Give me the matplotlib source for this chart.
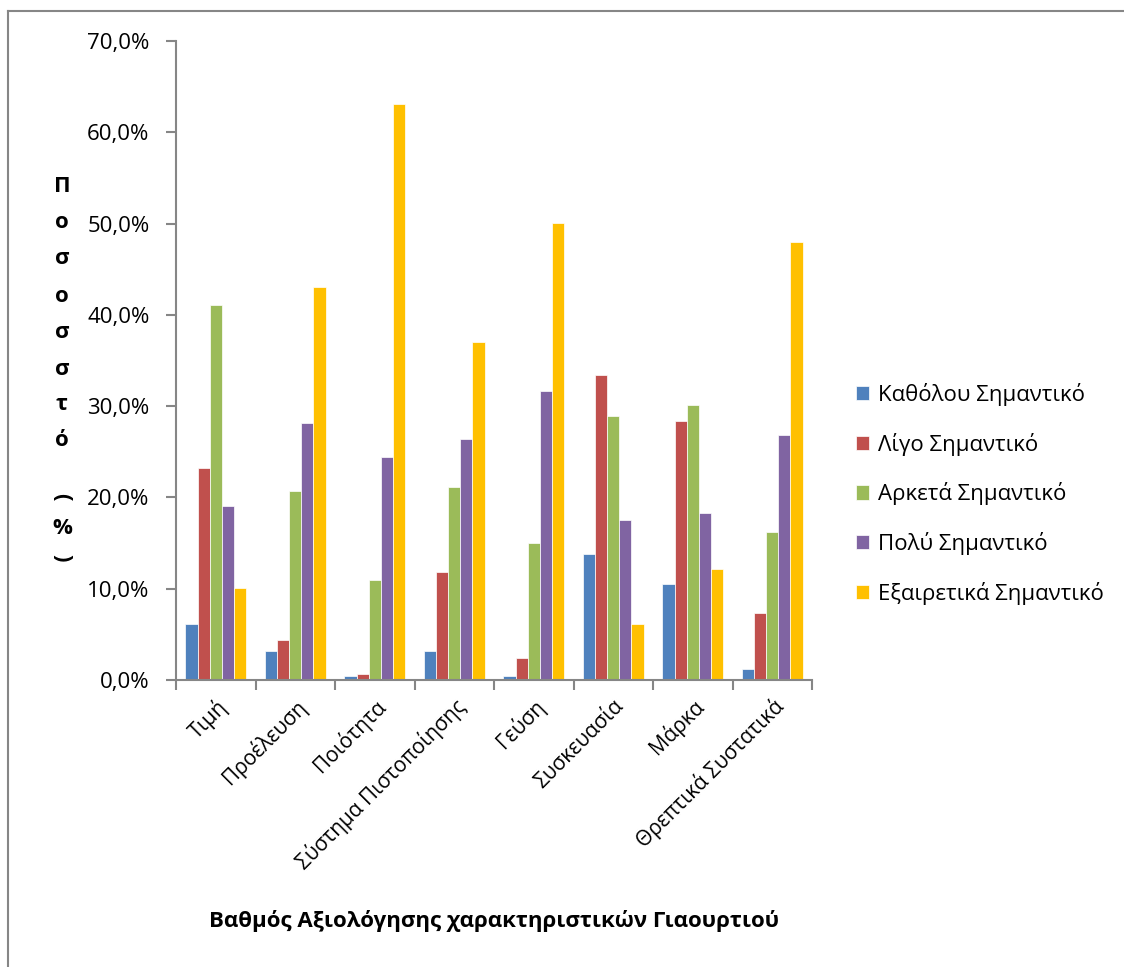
import numpy as np
import matplotlib.pyplot as plt
from matplotlib.lines import Line2D
from matplotlib.ticker import FuncFormatter, FixedLocator

plt.rcParams['font.family'] = ['Open Sans', 'DejaVu Sans']

# χαρακτηριστικά γιαουρτιού
categories = ['Τιμή', 'Προέλευση', 'Ποιότητα', 'Σύστημα Πιστοποίησης',
              'Γεύση', 'Συσκευασία', 'Μάρκα', 'Θρεπτικά Συστατικά']

series_names = ['Καθόλου Σημαντικό', 'Λίγο Σημαντικό', 'Αρκετά Σημαντικό',
                'Πολύ Σημαντικό', 'Εξαιρετικά Σημαντικό']

katholou = [6.1, 3.2, 0.4, 3.2, 0.4, 13.8, 10.5, 1.2]
ligo = [23.2, 4.4, 0.7, 11.8, 2.4, 33.4, 28.4, 7.3]
arketa = [41.1, 20.7, 11.0, 21.1, 15.0, 28.9, 30.1, 16.2]
poly = [19.1, 28.1, 24.4, 26.4, 31.7, 17.5, 18.3, 26.8]
exairetika = [10.1, 43.1, 63.1, 37.0, 50.1, 6.1, 12.2, 48.0]

colors = ['#4F81BD', '#C0504D', '#9BBB59', '#8064A2', '#FFC000']

fig = plt.figure(figsize=(11.24, 9.67), dpi=100)
ax = fig.add_axes([176 / 1124, 1 - 680 / 967, 636 / 1124, 639 / 967])

x = np.arange(len(categories))
w = 0.153
for i, (vals, name) in enumerate(zip([katholou, ligo, arketa, poly, exairetika], series_names)):
    ax.bar(x + (i - 2) * w, vals, w, color=colors[i], label=name,
           edgecolor='white', linewidth=0.5)

ax.set_xlim(-0.5, len(categories) - 0.5)
ax.set_ylim(0, 70)
ax.set_yticks(np.arange(0, 71, 10))
ax.yaxis.set_major_formatter(FuncFormatter(lambda v, p: f'{v:.1f}%'.replace('.', ',')))

ax.set_xticks(x)
ax.set_xticklabels(categories, rotation=45, ha='right', rotation_mode='anchor', fontsize=15)
ax.xaxis.set_minor_locator(FixedLocator(np.arange(-0.5, len(categories), 1)))
ax.tick_params(axis='x', which='major', length=0, pad=11)
ax.tick_params(axis='x', which='minor', length=7, width=1.5, color='#868686')
ax.tick_params(axis='y', length=7, width=1.5, color='#868686', labelsize=16, pad=12)

for s in ['top', 'right']:
    ax.spines[s].set_visible(False)
for s in ['left', 'bottom']:
    ax.spines[s].set_color('#868686')
    ax.spines[s].set_linewidth(1.5)

ax.set_xlabel('Βαθμός Αξιολόγησης χαρακτηριστικών Γιαουρτιού',
              fontsize=16, fontweight='bold')
ax.xaxis.set_label_coords(0.5, -(910 - 680) / 639)

# κάθετος τίτλος άξονα y, ένας χαρακτήρας ανά γραμμή
ylab = ['Π', 'ο', 'σ', 'ο', 'σ', 'σ', 'τ', 'ό', '(', '%', ')']
ypos = [187, 222, 259, 297, 333, 369, 405, 441, 497, 528, 558]
for ch, yp in zip(ylab, ypos):
    rot = -90 if ch in '()' else 0
    fig.text(62 / 1124, 1 - yp / 967, ch, fontsize=16, fontweight='bold',
             ha='center', va='center', rotation=rot)

ax.legend(loc='upper left', bbox_to_anchor=(836 / 1124, 1 - 363 / 967),
          bbox_transform=fig.transFigure, frameon=False, fontsize=16,
          handlelength=0.6, handleheight=0.6, handletextpad=0.4,
          labelspacing=1.2)

# πλαίσιο γραφήματος
fig.add_artist(Line2D([8 / 1124, 8 / 1124], [0, 1 - 11 / 967],
                      color='#868686', lw=1.5, transform=fig.transFigure))
fig.add_artist(Line2D([8 / 1124, 1], [1 - 11 / 967, 1 - 11 / 967],
                      color='#868686', lw=1.5, transform=fig.transFigure))

fig.savefig('out.png', dpi=100)
